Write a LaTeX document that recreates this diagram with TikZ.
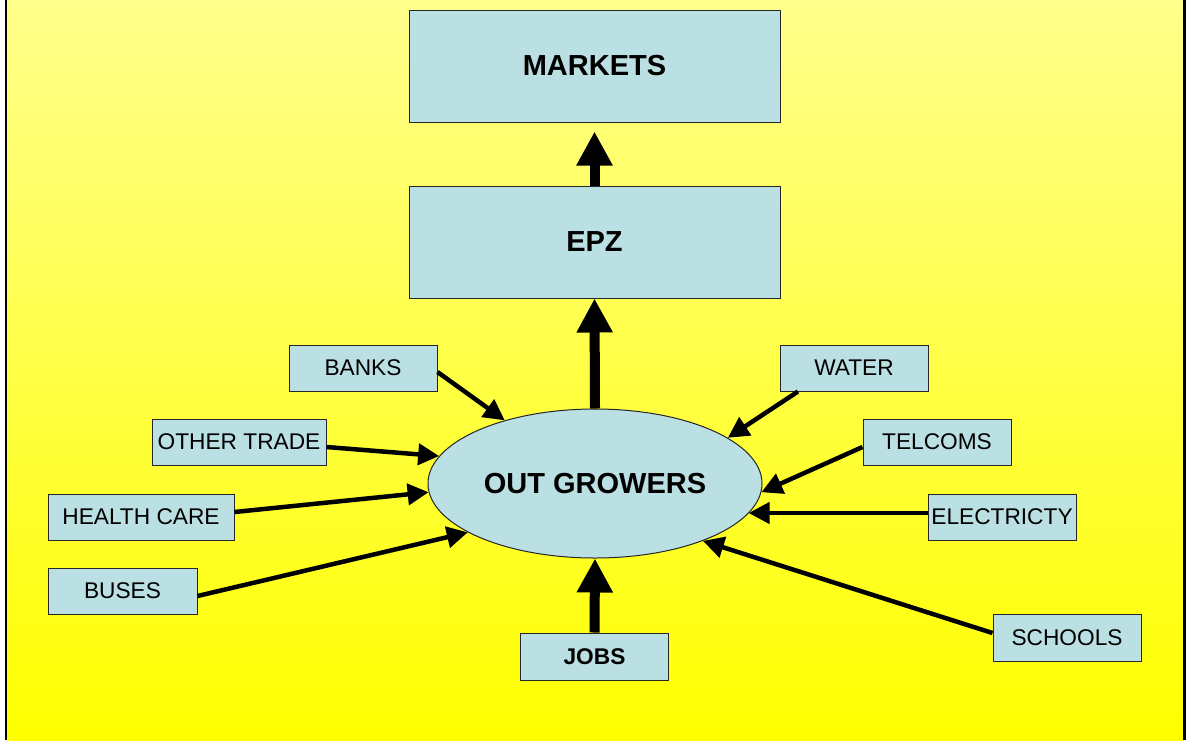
\documentclass[tikz,border=0pt]{standalone}
\usepackage{fontspec}
\setmainfont{Liberation Sans}
\usetikzlibrary{arrows.meta,shapes.geometric}
\definecolor{boxblue}{RGB}{187,224,227}
\definecolor{ytop}{RGB}{255,255,140}
\definecolor{ybot}{RGB}{255,255,0}
\begin{document}
\begin{tikzpicture}[x=1pt,y=-1pt,
  box/.style={draw=black!85, line width=1pt, fill=boxblue, inner sep=0pt, text=black},
  small/.style={box, minimum width=148pt, minimum height=46pt, font=\fontsize{22.7}{26}\selectfont},
  big/.style={box, minimum width=371pt, minimum height=112pt, font=\fontsize{29}{34}\selectfont\bfseries},
  thinarrow/.style={line width=4.5pt, -{Triangle[length=21pt,width=21pt]}},
  thickarrow/.style={line width=10pt, -{Triangle[length=34pt,width=34pt]}}]
\useasboundingbox (0,0) rectangle (1186,740);
\fill[white] (0,0) rectangle (1186,740);
\shade[top color=ytop, bottom color=ybot] (7,0) rectangle (1183,740);
\draw[line width=2pt] (6,0) -- (6,740);
\draw[line width=4pt] (1185,0) -- (1185,740);

\node[big] (markets) at (594.5,66) {MARKETS};
\node[big] (epz) at (594.5,242) {EPZ};
\node[box, ellipse, minimum width=334pt, minimum height=149pt, font=\fontsize{29}{34}\selectfont\bfseries] (og) at (595,483.5) {OUT GROWERS};

\node[small] (banks) at (363,368) {BANKS};
\node[small] (water) at (854,368) {WATER};
\node[small, minimum width=174pt] (othertrade) at (239,442) {OTHER TRADE};
\node[small] (telcoms) at (937,442) {TELCOMS};
\node[small, minimum width=186pt] (health) at (141,517) {HEALTH CARE};
\node[small] (electricity) at (1002,517) {ELECTRICTY};
\node[small, minimum width=149pt] (buses) at (122.5,591) {BUSES};
\node[small, minimum height=47pt] (schools) at (1067,637.5) {SCHOOLS};
\node[small, minimum height=47pt, font=\fontsize{22.7}{26}\selectfont\bfseries] (jobs) at (594.5,656.5) {JOBS};

\draw[thickarrow] (epz.north) -- ([yshift=-9pt]markets.south);
\draw[thickarrow] (og.north) -- (epz.south);
\draw[thickarrow] (jobs.north) -- (og.south);

\draw[thinarrow] ([yshift=-4pt]banks.east) -- (og.145);
\draw[thinarrow] ([yshift=-5pt]othertrade.east) -- (og.170);
\draw[thinarrow] ([yshift=5pt]health.east) -- (og.183);
\draw[thinarrow] ([yshift=-5pt]buses.east) -- (og.201);
\draw[thinarrow] ([xshift=-56pt]water.south) -- (og.19.5);
\draw[thinarrow] ([yshift=-5pt]telcoms.west) -- (og.-3.4);
\draw[thinarrow] ([yshift=4pt]electricity.west) -- ([yshift=4pt]electricity.west -| og.-11);
\draw[thinarrow] ([yshift=4.5pt]schools.west) -- (og.-28.7);
\end{tikzpicture}
\end{document}
